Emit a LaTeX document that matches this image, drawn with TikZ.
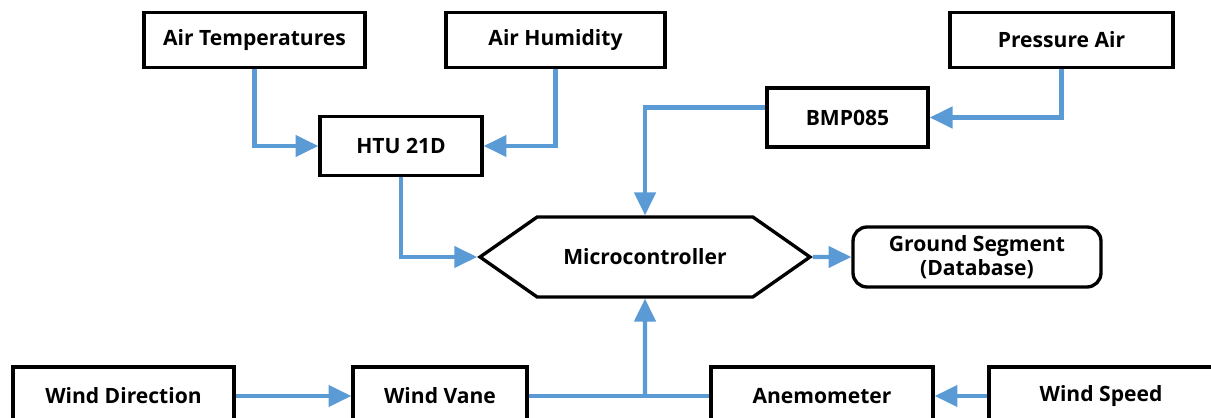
\documentclass[tikz,border=0pt]{standalone}
\usepackage{fontspec}
\setmainfont{Open Sans}
\usetikzlibrary{shapes.symbols, arrows.meta, positioning, calc}
\definecolor{linkblue}{RGB}{91, 155, 213}

\begin{document}
\begin{tikzpicture}[x=0.02cm, y=-0.02cm,
  blk/.style={draw, line width=1.9pt, minimum height=1.1cm, inner sep=2pt, align=center, font=\fontsize{12}{14}\selectfont\bfseries},
  link/.style={draw=linkblue, line width=2.3pt, -{Triangle[length=13pt, width=12pt]}}
]
  \useasboundingbox (0,0) rectangle (1211,418);
  \clip (0,0) rectangle (1211,418);

  \node[blk, minimum width=4.42cm] (airtemp) at (254.5, 40) {Air Temperatures};
  \node[blk, minimum width=4.38cm] (airhum) at (555.5, 40) {Air Humidity};
  \node[blk, minimum width=4.46cm] (pressure) at (1061.5, 40) {Pressure Air};

  \node[blk, minimum width=3.24cm, minimum height=1.17cm] (htu) at (401, 146) {HTU 21D};
  \node[blk, minimum width=3.22cm, minimum height=1.18cm] (bmp) at (847.5, 117.5) {BMP085};

  \node[blk, signal, signal to=west and east, signal pointer angle=70,
        minimum width=6.6cm, minimum height=1.6cm] (micro) at (645, 257) {Microcontroller};
  \node[blk, rounded corners=8pt, minimum width=4.96cm, minimum height=1.2cm] (ground) at (977, 257) {Ground Segment\\(Database)};

  \node[blk, minimum width=4.42cm, minimum height=1.16cm] (winddir) at (123.5, 396) {Wind Direction};
  \node[blk, minimum width=3.48cm, minimum height=1.16cm] (windvane) at (440, 396) {Wind Vane};
  \node[blk, minimum width=4.44cm, minimum height=1.16cm] (anemo) at (822, 396) {Anemometer};
  \node[blk, minimum width=4.48cm, minimum height=1.16cm] (windspeed) at (1101, 396) {Wind Speed};

  \draw[link] (airtemp) |- (htu);
  \draw[link] (airhum) |- (htu);
  \draw[link] (htu) |- (micro);
  \draw[link] (pressure) |- (bmp);
  \draw[link] ([yshift=0.2cm]bmp.west) -| (micro);
  \draw[link] (micro) -- (ground);

  \draw[link] (winddir.east) -- (windvane.west);
  \draw[link] (windspeed.west) -- (anemo.east);
  \coordinate (junc) at (micro.south |- windvane.east);
  \draw[link, -] (windvane.east) -- (anemo.west);
  \draw[link] (junc) -- (micro);
\end{tikzpicture}
\end{document}
